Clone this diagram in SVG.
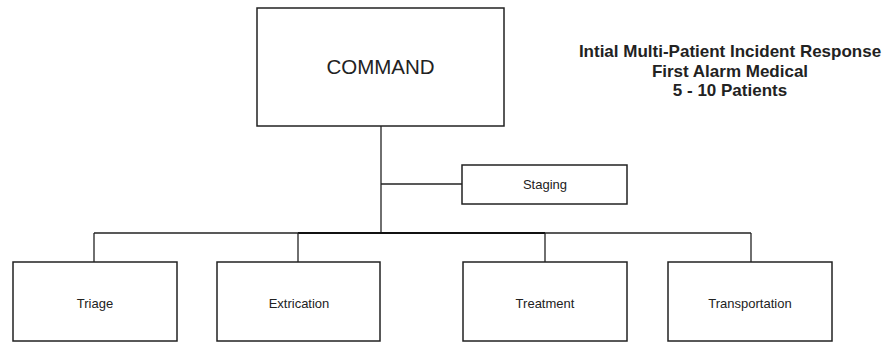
<svg xmlns="http://www.w3.org/2000/svg" width="893" height="343" viewBox="0 0 893 343">
<style>
.box{fill:#fff;stroke:#222;stroke-width:1.5}
.ln{fill:none;stroke:#222;stroke-width:1.3}
.thick{fill:none;stroke:#111;stroke-width:2.2}
.t{font-family:"Liberation Sans",Arial,sans-serif;fill:#222;text-anchor:middle}
.s{font-size:13px}
.title{font-size:17px;font-weight:bold}
</style>
<rect width="893" height="343" fill="#fff"/>
<g id="connectors">
<line class="ln" x1="381" y1="126" x2="381" y2="233"/>
<line class="ln" x1="381" y1="184" x2="462" y2="184"/>
<line class="ln" x1="94" y1="233" x2="298" y2="233"/>
<line class="thick" x1="298" y1="233" x2="545" y2="233"/>
<line class="ln" x1="545" y1="233" x2="751" y2="233"/>
<line class="ln" x1="94" y1="233" x2="94" y2="262"/>
<line class="ln" x1="298" y1="233" x2="298" y2="262"/>
<line class="ln" x1="545" y1="233" x2="545" y2="262"/>
<line class="ln" x1="751" y1="233" x2="751" y2="262"/>
</g>
<g id="command">
<rect class="box" x="257" y="8" width="247" height="118"/>
<text class="t" x="380.5" y="74" font-size="20.5">COMMAND</text>
</g>
<g id="staging">
<rect class="box" x="462" y="165" width="165" height="39"/>
<text class="t s" x="545" y="189">Staging</text>
</g>
<g id="triage">
<rect class="box" x="13" y="262" width="164" height="79"/>
<text class="t s" x="95" y="308">Triage</text>
</g>
<g id="extrication">
<rect class="box" x="217" y="262" width="163" height="79"/>
<text class="t s" x="299" y="308">Extrication</text>
</g>
<g id="treatment">
<rect class="box" x="463" y="262" width="164" height="79"/>
<text class="t s" x="545" y="308">Treatment</text>
</g>
<g id="transportation">
<rect class="box" x="668" y="262" width="164" height="79"/>
<text class="t s" x="750" y="308">Transportation</text>
</g>
<g id="title">
<text class="t title" x="730" y="57">Intial Multi-Patient Incident Response</text>
<text class="t title" x="730" y="77">First Alarm Medical</text>
<text class="t title" x="730" y="96">5 - 10 Patients</text>
</g>
</svg>
